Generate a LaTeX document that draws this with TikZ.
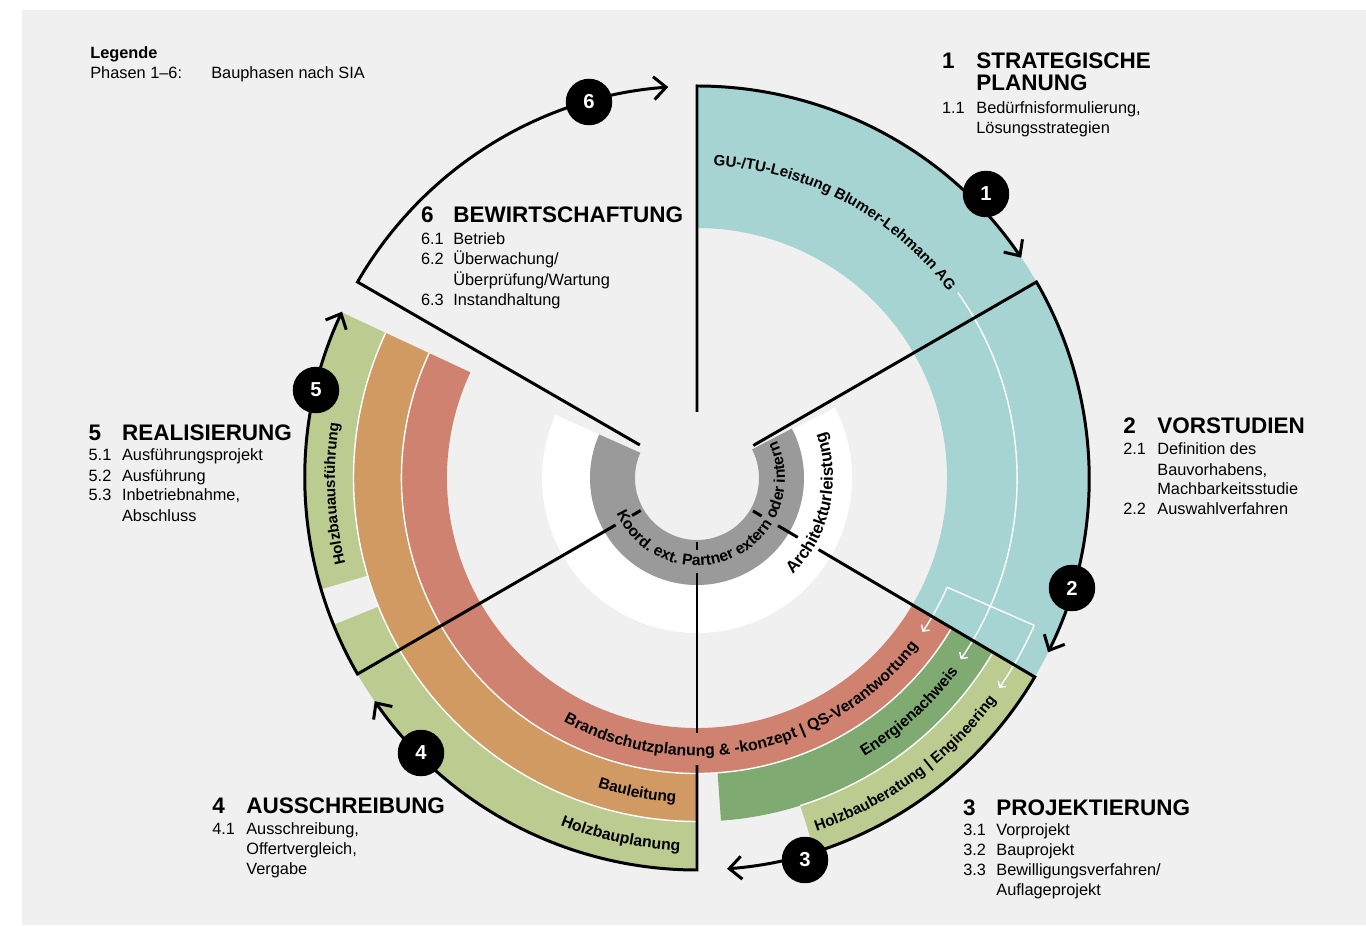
\documentclass[tikz,border=0pt]{standalone}
\usepackage{fontspec}
\setmainfont{Liberation Sans}
\usetikzlibrary{arrows.meta,decorations.text}

\definecolor{panelgray}{HTML}{EFF0EF}
\definecolor{gubg}{HTML}{A6D4D3}
\definecolor{brandred}{HTML}{D08270}
\definecolor{bauorange}{HTML}{D19A63}
\definecolor{energiegreen}{HTML}{7FAB73}
\definecolor{holzgreen}{HTML}{BCCB8F}
\definecolor{koordgray}{HTML}{9A9A9A}

\newcommand{\ringpart}[5]{%
  \fill[#1] (#2:#4) arc[start angle=#2, end angle=#3, radius=#4]
    -- (#3:#5) arc[start angle=#3, end angle=#2, radius=#5] -- cycle;}

\tikzset{phaseline/.style={line width=1.7pt}}
\tikzset{phasearc/.style={line width=1.7pt, -{Straight Barb[length=7pt,width=13pt]}}}
\tikzset{numdot/.style={circle, fill=black, inner sep=0pt, minimum size=0.93cm, text=white, font=\fontsize{11.5}{12}\selectfont\bfseries}}
\tikzset{headtxt/.style={anchor=base west, inner sep=0pt, font=\fontsize{12.8}{14}\selectfont\bfseries}}
\tikzset{bodytxt/.style={anchor=base west, inner sep=0pt, font=\fontsize{9.3}{11}\selectfont}}
\tikzset{legtxt/.style={bodytxt, font=\fontsize{9.3}{11}\selectfont\bfseries}}
\tikzset{thinwhite/.style={white, line width=0.8pt}}
\tikzset{thinarrow/.style={thinwhite, -{Straight Barb[length=2.5pt,width=5.5pt]}}}
\tikzset{curvetext/.style 2 args={decorate, decoration={text along path, text={|\fontsize{#1}{10}\selectfont\bfseries|#2}}}}

\begin{document}
\begin{tikzpicture}[x=0.02cm, y=0.02cm]
  \useasboundingbox (-697,-448) rectangle (669,478);
  \fill[white] (-697,-448) rectangle (669,478);
  \fill[panelgray] (-675,-447) rectangle (669,468);

  % rings and bands
  \ringpart{white}{-204}{27}{107}{155}
  \ringpart{koordgray}{-204}{27.5}{62}{107}
  \ringpart{gubg}{-30.5}{90}{250}{392}
  \ringpart{brandred}{155}{329.5}{250}{295.5}
  \ringpart{bauorange}{155}{270}{295.5}{343.5}
  \ringpart{energiegreen}{274}{329.5}{295.5}{343.5}
  \ringpart{holzgreen}{155}{196.5}{343.5}{392}
  \ringpart{holzgreen}{202}{270}{343.5}{392}
  \ringpart{holzgreen}{287.5}{329.5}{343.5}{392}

  \draw[thinwhite] (155:295.5) arc[start angle=155, end angle=329.5, radius=295.5];
  \draw[thinwhite] (155:343.5) arc[start angle=155, end angle=270, radius=343.5];
  \draw[thinwhite] (287.5:343.5) arc[start angle=287.5, end angle=329.5, radius=343.5];

  \draw[thinarrow] (35.4:320) arc[start angle=35.4, end angle=-34.5, radius=320];
  \draw[thinwhite] (-23.6:273) -- (-23.6:368);
  \draw[thinarrow] (-23.6:273) arc[start angle=-23.6, end angle=-34.3, radius=273];
  \draw[thinarrow] (-23.6:368) arc[start angle=-23.6, end angle=-34.8, radius=368];

  % phase borders
  \draw[phaseline] (-30.5:65) -- (-30.5:75);
  \draw[phaseline] (-30.5:94) -- (-30.5:117);
  \draw[phaseline] (270:64) -- (270:72);
  \draw[phaseline] (270:95) -- (270:255);
  \draw[phaseline] (210:65) -- (210:75);
  \draw[phasearc] (90:66) -- (90:392) arc[start angle=90, end angle=34.2, radius=392];
  \draw[phasearc] (30:65) -- (30:392) arc[start angle=30, end angle=-26.4, radius=392];
  \draw[phasearc] (-30.5:141) -- (-30.5:392) arc[start angle=-30.5, end angle=-85.6, radius=392];
  \draw[phasearc] (270:287) -- (270:392) arc[start angle=270, end angle=214.7, radius=392];
  \draw[phasearc] (210:94) -- (210:392) arc[start angle=210, end angle=154.9, radius=392];
  \draw[phasearc] (150:66) -- (150:392) arc[start angle=150, end angle=94.2, radius=392];

  \node[numdot] (n1) at (289,284) {1};
  \node[numdot] (n2) at (375,-110) {2};
  \node[numdot] (n3) at (108,-382) {3};
  \node[numdot] (n4) at (-276,-275) {4};
  \node[numdot] (n5) at (-381,88) {5};
  \node[numdot] (n6) at (-108,376) {6};

  % texts along the rings
  \path[curvetext={8.6}{GU-/TU-Leistung Blumer-Lehmann AG}] (87:313) arc[start angle=87, end angle=20, radius=313];
  \path[curvetext={9}{Brandschutzplanung {\&} -konzept {\textbar} QS-Verantwortung}] (241.3:278) arc[start angle=241.3, end angle=340, radius=278];
  \path[curvetext={8.8}{Bauleitung}] (252.2:325) arc[start angle=252.2, end angle=285, radius=325];
  \path[curvetext={9}{Holzbauplanung}] (248.5:373) arc[start angle=248.5, end angle=285, radius=373];
  \path[curvetext={8.9}{Energienachweis}] (301:325) arc[start angle=301, end angle=340, radius=325];
  \path[curvetext={8.7}{Holzbauberatung {\textbar} Engineering}] (288.7:373) arc[start angle=288.7, end angle=345, radius=373];
  \path[curvetext={8.6}{Holzbauausführung}] (193.7:362) arc[start angle=193.7, end angle=160, radius=362];
  \path[curvetext={9.6}{Architekturleistung}] (-45.3:136) arc[start angle=-45.3, end angle=35, radius=136];
  \path[curvetext={8.9}{Koord. ext. Partner extern oder intern}] (203.9:88) arc[start angle=203.9, end angle=410, radius=88];

  % legend
  \node[legtxt] (leg) at (-607,419) {Legende};
  \node[bodytxt] (legk) at (-607,399.7) {Phasen 1–6:};
  \node[bodytxt] (legv) at (-486,399.7) {Bauphasen nach SIA};

  % phase 1
  \node[headtxt] (p1no) at (244.7,409.7) {1};
  \node[headtxt] (p1ti) at (279,409.7) {STRATEGISCHE};
  \node[headtxt] (p1tj) at (279,387.5) {PLANUNG};
  \node[bodytxt] (p1ano) at (244.7,364) {1.1};
  \node[bodytxt] (p1a) at (279,364) {Bedürfnisformulierung,};
  \node[bodytxt] (p1b) at (279,344) {Lösungsstrategien};

  % phase 2
  \node[headtxt] (p2no) at (426,44) {2};
  \node[headtxt] (p2ti) at (460,44) {VORSTUDIEN};
  \node[bodytxt] (p2ano) at (426,23) {2.1};
  \node[bodytxt] (p2a) at (460,23) {Definition des};
  \node[bodytxt] (p2b) at (460,2) {Bauvorhabens,};
  \node[bodytxt] (p2c) at (460,-17) {Machbarkeitsstudie};
  \node[bodytxt] (p2dno) at (426,-37) {2.2};
  \node[bodytxt] (p2d) at (460,-37) {Auswahlverfahren};

  % phase 3
  \node[headtxt] (p3no) at (265.7,-337) {3};
  \node[headtxt] (p3ti) at (299,-337) {PROJEKTIERUNG};
  \node[bodytxt] (p3ano) at (266,-357.7) {3.1};
  \node[bodytxt] (p3a) at (299,-357.7) {Vorprojekt};
  \node[bodytxt] (p3bno) at (266,-377) {3.2};
  \node[bodytxt] (p3b) at (299,-377) {Bauprojekt};
  \node[bodytxt] (p3cno) at (266,-397) {3.3};
  \node[bodytxt] (p3c) at (299,-397) {Bewilligungsverfahren/};
  \node[bodytxt] (p3d) at (299,-417) {Auflageprojekt};

  % phase 4
  \node[headtxt] (p4no) at (-485,-335) {4};
  \node[headtxt] (p4ti) at (-451,-335) {AUSSCHREIBUNG};
  \node[bodytxt] (p4ano) at (-485,-356.5) {4.1};
  \node[bodytxt] (p4a) at (-451,-356.5) {Ausschreibung,};
  \node[bodytxt] (p4b) at (-451,-376.5) {Offertvergleich,};
  \node[bodytxt] (p4c) at (-451,-396.5) {Vergabe};

  % phase 5
  \node[headtxt] (p5no) at (-608.7,37) {5};
  \node[headtxt] (p5ti) at (-575.3,37) {REALISIERUNG};
  \node[bodytxt] (p5ano) at (-608.7,17) {5.1};
  \node[bodytxt] (p5a) at (-575.3,17) {Ausführungsprojekt};
  \node[bodytxt] (p5bno) at (-608.7,-3.7) {5.2};
  \node[bodytxt] (p5b) at (-575.3,-3.7) {Ausführung};
  \node[bodytxt] (p5cno) at (-608.7,-23) {5.3};
  \node[bodytxt] (p5c) at (-575.3,-23) {Inbetriebnahme,};
  \node[bodytxt] (p5d) at (-575.3,-43.7) {Abschluss};

  % phase 6
  \node[headtxt] (p6no) at (-276.3,255) {6};
  \node[headtxt] (p6ti) at (-244,255) {BEWIRTSCHAFTUNG};
  \node[bodytxt] (p6ano) at (-276.3,233.7) {6.1};
  \node[bodytxt] (p6a) at (-244,233.7) {Betrieb};
  \node[bodytxt] (p6bno) at (-276.3,213) {6.2};
  \node[bodytxt] (p6b) at (-244,213) {Überwachung/};
  \node[bodytxt] (p6c) at (-244,192.3) {Überprüfung/Wartung};
  \node[bodytxt] (p6dno) at (-276.3,172.3) {6.3};
  \node[bodytxt] (p6d) at (-244,172.3) {Instandhaltung};
\end{tikzpicture}
\end{document}
